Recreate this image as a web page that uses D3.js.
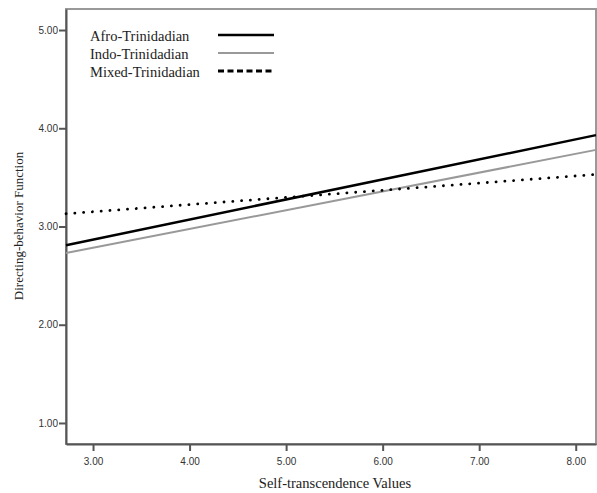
<!DOCTYPE html>
<html>
<head>
<meta charset="utf-8">
<script src="https://cdn.jsdelivr.net/npm/d3@7"></script>
<style>
    body { margin: 0; background: #fff; }
    .tick text { font-family: "Liberation Sans Narrow", "Liberation Sans", sans-serif; font-size: 10px; fill: #333; }
</style>
</head>
<body>
<div id="graph"></div>
<script>
// x range of the fitted lines (left / right edge of the plot)
var xEnds = [2.72, 8.21];
var afro = [2.81, 3.93];
var indo = [2.73, 3.78];
var mixed = [3.13, 3.53];

var xTicks = [3, 4, 5, 6, 7, 8];
var yTicks = [1, 2, 3, 4, 5];
var legendNames = ['Afro-Trinidadian', 'Indo-Trinidadian', 'Mixed-Trinidadian'];

var width = 597;
var height = 493;
var mLeft = 66, mRight = 596, mTop = 9, mBottom = 444;

var svg = d3.select('#graph')
    .append('svg')
    .attr('width', width)
    .attr('height', height);

var xScale = d3.scaleLinear().domain([2.72, 8.21]).range([mLeft, mRight]);
var yScale = d3.scaleLinear().domain([0.786, 5.214]).range([mBottom, mTop]);

// frame
svg.append('rect')
    .attr('x', mLeft).attr('y', mTop)
    .attr('width', mRight - mLeft).attr('height', mBottom - mTop)
    .attr('fill', 'none')
    .attr('stroke', '#999')
    .attr('stroke-width', 2);

var xAxis = d3.axisBottom(xScale)
    .tickValues(xTicks)
    .tickFormat(d3.format('.2f'))
    .tickSize(7)
    .tickSizeOuter(0);
var yAxis = d3.axisLeft(yScale)
    .tickValues(yTicks)
    .tickFormat(d3.format('.2f'))
    .tickSize(7)
    .tickSizeOuter(0);

var gx = svg.append('g').attr('transform', 'translate(0,' + mBottom + ')').call(xAxis);
var gy = svg.append('g').attr('transform', 'translate(' + mLeft + ',0)').call(yAxis);
[gx, gy].forEach(function(g) {
    g.select('.domain').attr('stroke', '#555').attr('stroke-width', 2);
    g.selectAll('.tick line').attr('stroke', '#555').attr('stroke-width', 2);
});
gx.selectAll('.tick text').attr('dy', '1.05em');
gy.selectAll('.tick text').attr('x', -8);

// fitted lines
var line = d3.line()
    .x(function(d) { return xScale(d[0]); })
    .y(function(d) { return yScale(d[1]); });

function pts(arr) {
    return xEnds.map(function(x, i) { return [x, arr[i]]; });
}

svg.append('path').datum(pts(indo))
    .attr('d', line).attr('fill', 'none')
    .attr('stroke', '#999').attr('stroke-width', 2);
svg.append('path').datum(pts(afro))
    .attr('d', line).attr('fill', 'none')
    .attr('stroke', '#000').attr('stroke-width', 2.5);
svg.append('path').datum(pts(mixed))
    .attr('d', line).attr('fill', 'none')
    .attr('stroke', '#000').attr('stroke-width', 2.8)
    .attr('stroke-linecap', 'round')
    .attr('stroke-dasharray', '0.1 8.7');

// legend
var legendStyles = [
    { stroke: '#000', w: 2.5, dash: null },
    { stroke: '#999', w: 2, dash: null },
    { stroke: '#000', w: 2.8, dash: '6 3.5' }
];
var legendY = [41, 59, 77];
legendNames.forEach(function(name, i) {
    svg.append('text')
        .attr('x', 90).attr('y', legendY[i])
        .attr('font-family', '"Liberation Serif", "Times New Roman", serif')
        .attr('font-size', 14.5)
        .attr('fill', '#222')
        .text(name);
    svg.append('line')
        .attr('x1', 218).attr('x2', 274)
        .attr('y1', legendY[i] - 6).attr('y2', legendY[i] - 6)
        .attr('stroke', legendStyles[i].stroke)
        .attr('stroke-width', legendStyles[i].w)
        .attr('stroke-dasharray', legendStyles[i].dash);
});

// axis titles
svg.append('text')
    .attr('x', 335).attr('y', 488)
    .attr('text-anchor', 'middle')
    .attr('font-family', '"Liberation Serif", "Times New Roman", serif')
    .attr('font-size', 14.5)
    .attr('fill', '#222')
    .text('Self-transcendence Values');

svg.append('text')
    .attr('transform', 'translate(23,226) rotate(-90)')
    .attr('text-anchor', 'middle')
    .attr('font-family', '"Liberation Serif", "Times New Roman", serif')
    .attr('font-size', 13)
    .attr('fill', '#222')
    .text('Directing-behavior Function');
</script>
</body>
</html>
